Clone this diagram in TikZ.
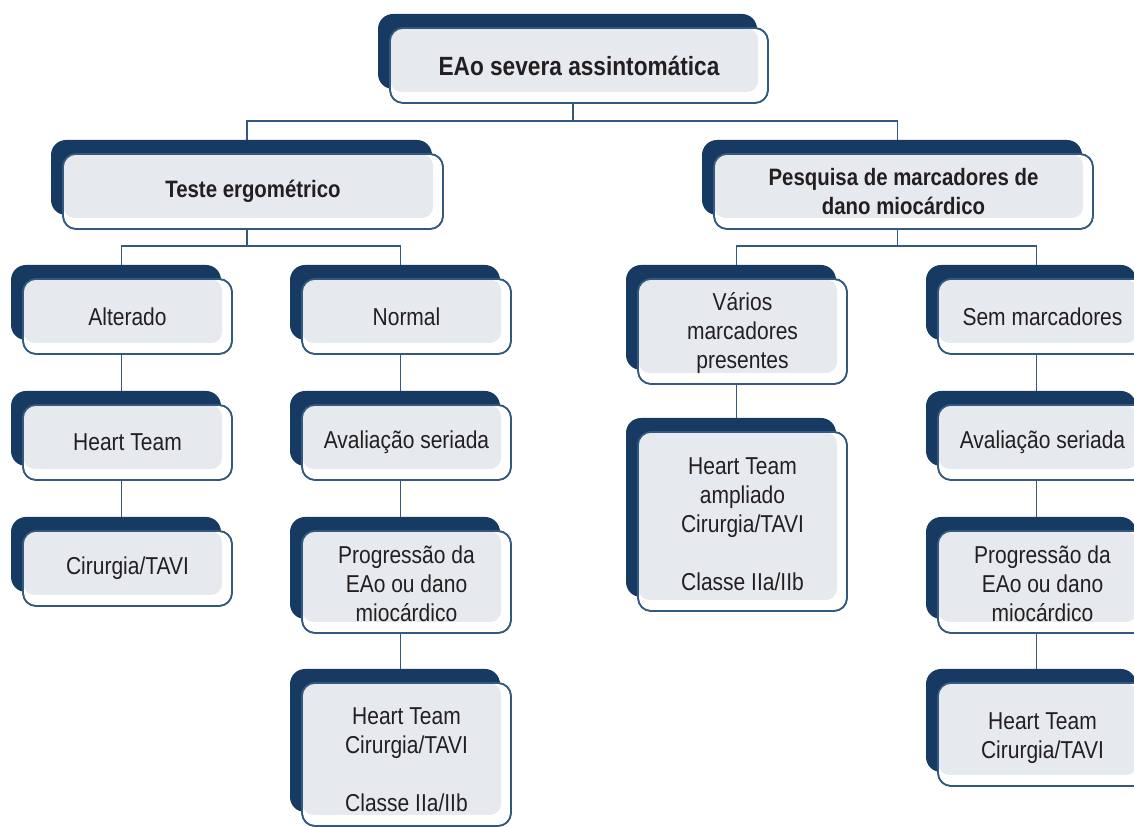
\documentclass[tikz,border=0pt]{standalone}
\usepackage{fontspec}
\setmainfont[FakeStretch=0.86]{Liberation Sans}
\usetikzlibrary{calc}
\definecolor{navy}{HTML}{173A63}
\definecolor{outl}{HTML}{34597F}
\definecolor{innergray}{HTML}{E6E9EE}
\definecolor{txtc}{HTML}{231F20}
\pgfdeclarelayer{bg}
\pgfsetlayers{bg,main}
\tikzset{
  txt/.style={inner sep=0pt, align=center, text=txtc, font=\fontsize{13.9}{16.5}\selectfont},
  bold/.style={font=\bfseries\fontsize{13.5}{16.2}\selectfont},
  conn/.style={draw=outl, line width=1.1pt},
  backbox/.style={fill=navy, rounded corners=0.3cm},
  frontbox/.style={fill=white, draw=outl, line width=0.9pt, rounded corners=0.26cm},
  innerbox/.style={fill=innergray, rounded corners=0.22cm},
  outline/.style={draw=outl, line width=0.9pt, rounded corners=0.26cm}
}
% [style] name, x1, y1, x2, y2, text offset (px, down), text
\newcommand{\ebox}[8][]{%
  \fill[backbox] ({#3-12},{#4-14}) rectangle ({#5-11},{#6-14});
  \path[frontbox] (#3,#4) rectangle (#5,#6);
  \fill[innerbox] ({#3+0.5},{#4+0.5}) rectangle ({#5-10},{#6-11});
  \draw[outline] (#3,#4) rectangle (#5,#6);
  \node[txt,#1, minimum width={(#5-#3)*0.02cm}, minimum height={(#6-#4-2*#7)*0.02cm}] (#2) at ({(#3+#5)/2},{(#4+#6)/2+#7}) {#8};
}
\begin{document}
\begin{tikzpicture}[x=0.02cm,y=-0.02cm]
\useasboundingbox (0,0) rectangle (1134,827);
\ebox[bold, font=\bfseries\fontsize{15}{18}\selectfont]{root}{390}{28}{768}{103}{0}{EAo severa assintomática}
\ebox[bold]{teste}{63}{154}{443}{229}{0}{Teste ergométrico}
\ebox[bold]{pesq}{714}{154}{1093}{229}{0}{Pesquisa de marcadores de\\dano miocárdico}
\ebox{alt}{23}{279}{232}{354}{0}{Alterado}
\ebox{norm}{302}{279}{511}{354}{0}{Normal}
\ebox{var}{638}{279}{847}{384}{2}{Vários\\marcadores\\presentes}
\ebox{sem}{938}{279}{1147}{354}{0}{Sem marcadores}
\ebox{htA}{23}{405}{232}{480}{0}{Heart Team}
\ebox{avA}{302}{405}{511}{480}{0}{Avaliação seriada}
\ebox{htamp}{638}{432}{847}{611}{2.5}{Heart Team\\ampliado\\Cirurgia/TAVI\\[16.5pt]Classe IIa/IIb}
\ebox{avB}{938}{405}{1147}{480}{0}{Avaliação seriada}
\ebox{cir}{23}{531}{232}{606}{0}{Cirurgia/TAVI}
\ebox{progA}{302}{531}{511}{633}{2}{Progressão da\\EAo ou dano\\miocárdico}
\ebox{progB}{938}{531}{1147}{633}{2}{Progressão da\\EAo ou dano\\miocárdico}
\ebox{htB}{302}{683}{511}{826}{5}{Heart Team\\Cirurgia/TAVI\\[16.5pt]Classe IIa/IIb}
\ebox{htC}{938}{683}{1147}{786}{4}{Heart Team\\Cirurgia/TAVI}
\begin{pgfonlayer}{bg}
\draw[conn] ([xshift=-0.12cm]root.south) -- ++(0,18) -| ([xshift=-0.12cm]teste.north);
\draw[conn] ([xshift=-0.12cm]root.south) -- ++(0,18) -| ([xshift=-0.12cm]pesq.north);
\draw[conn] ([xshift=-0.12cm]teste.south) -- ++(0,17) -| ([xshift=-0.12cm]alt.north);
\draw[conn] ([xshift=-0.12cm]teste.south) -- ++(0,17) -| ([xshift=-0.12cm]norm.north);
\draw[conn] ([xshift=-0.12cm]pesq.south) -- ++(0,17) -| ([xshift=-0.12cm]var.north);
\draw[conn] ([xshift=-0.12cm]pesq.south) -- ++(0,17) -| ([xshift=-0.12cm]sem.north);
\draw[conn] ([xshift=-0.12cm]alt.south) -- ([xshift=-0.12cm]htA.north);
\draw[conn] ([xshift=-0.12cm]htA.south) -- ([xshift=-0.12cm]cir.north);
\draw[conn] ([xshift=-0.12cm]norm.south) -- ([xshift=-0.12cm]avA.north);
\draw[conn] ([xshift=-0.12cm]avA.south) -- ([xshift=-0.12cm]progA.north);
\draw[conn] ([xshift=-0.12cm]progA.south) -- ([xshift=-0.12cm]htB.north);
\draw[conn] ([xshift=-0.12cm]var.south) -- ([xshift=-0.12cm]htamp.north);
\draw[conn] ([xshift=-0.12cm]sem.south) -- ([xshift=-0.12cm]avB.north);
\draw[conn] ([xshift=-0.12cm]avB.south) -- ([xshift=-0.12cm]progB.north);
\draw[conn] ([xshift=-0.12cm]progB.south) -- ([xshift=-0.12cm]htC.north);
\end{pgfonlayer}
\end{tikzpicture}
\end{document}
